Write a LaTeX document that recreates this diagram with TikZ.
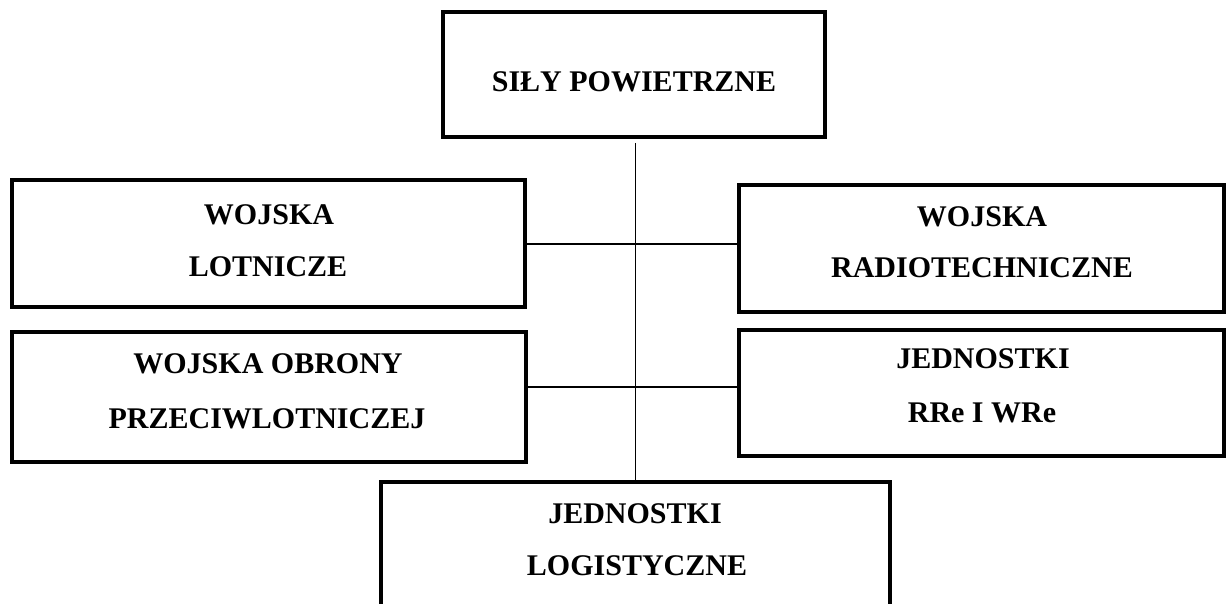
\documentclass[tikz,border=0pt]{standalone}
\usepackage{fontspec}
\setmainfont{Liberation Serif}
\begin{document}
\begin{tikzpicture}[x=1pt,y=-1pt,
  box/.style={draw=black, line width=3.5pt, rectangle, inner sep=0pt},
  lbl/.style={font=\bfseries\fontsize{30}{36}\selectfont, anchor=base, inner sep=0pt, text=black},
  link/.style={draw=black, line width=1.8pt}]
\useasboundingbox[fill=white] (0,0) rectangle (1227,604);
% boxes
\node[box, minimum width=382pt, minimum height=125pt] (top) at (634,74.5) {};
\node[box, minimum width=513pt, minimum height=127pt] (l1) at (268.5,243.5) {};
\node[box, minimum width=485pt, minimum height=127pt] (r1) at (981.5,248.5) {};
\node[box, minimum width=514pt, minimum height=130pt] (l2) at (269,397) {};
\node[box, minimum width=485pt, minimum height=126pt] (r2) at (981.5,393) {};
\node[box, minimum width=509pt, minimum height=140pt] (bot) at (635.5,552) {};
% labels
\node[lbl] (ttop) at (634,92) {SIŁY POWIETRZNE};
\node[lbl] (tl1a) at (269,225) {WOJSKA};
\node[lbl] (tl1b) at (268,277) {LOTNICZE};
\node[lbl] (tr1a) at (982,227) {WOJSKA};
\node[lbl] (tr1b) at (982,278) {RADIOTECHNICZNE};
\node[lbl] (tl2a) at (268,373) {WOJSKA OBRONY};
\node[lbl] (tl2b) at (267,428) {PRZECIWLOTNICZEJ};
\node[lbl] (tr2a) at (983,368) {JEDNOSTKI};
\node[lbl] (tr2b) at (982,422) {RRe I WRe};
\node[lbl] (tba) at (635,523) {JEDNOSTKI};
\node[lbl] (tbb) at (637,575) {LOGISTYCZNE};
% connectors
\coordinate (vtop) at (bot.north |- 0,143);
\draw[link] (vtop) -- (bot.north);
\draw[link] (l1.east |- 0,244) -- (r1.west |- 0,244);
\draw[link] (l2.east |- 0,387) -- (r2.west |- 0,387);
\end{tikzpicture}
\end{document}
